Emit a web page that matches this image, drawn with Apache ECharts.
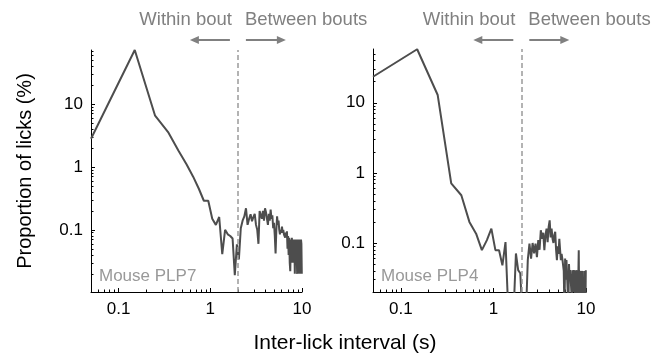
<!DOCTYPE html>
<html><head><meta charset="utf-8">
<script src="https://cdn.jsdelivr.net/npm/echarts@6/dist/echarts.min.js"></script>
<style>html,body{margin:0;padding:0;background:#fff}#c{width:653px;height:354px}</style>
</head><body><div id="c"></div>
<script>
// Inter-lick interval bin centres (s)
const intervals = [0.05,0.15,0.25,0.35,0.45,0.55,0.65,0.75,0.85,0.95,
  1.05,1.15,1.25,1.35,1.45,1.55,1.65,1.75,1.85,1.95,
  2.05,2.15,2.25,2.35,2.45,2.55,2.65,2.75,2.85,2.95,
  3.05,3.15,3.25,3.35,3.45,3.55,3.65,3.75,3.85,3.95,
  4.05,4.15,4.25,4.35,4.45,4.55,4.65,4.75,4.85,4.95,
  5.05,5.15,5.25,5.35,5.45,5.55,5.65,5.75,5.85,5.95,
  6.05,6.15,6.25,6.35,6.45,6.55,6.65,6.75,6.85,6.95,
  7.05,7.15,7.25,7.35,7.45,7.55,7.65,7.75,7.85,7.95,
  8.05,8.15,8.25,8.35,8.45,8.55,8.65,8.75,8.85,8.95,
  9.05,9.15,9.25,9.35,9.45,9.55,9.65,9.75,9.85,9.95];
// Proportion of licks (%) - Mouse PLP7
const plp7 = [2.8,72,6.5,3.5,1.8,1.1,0.7,0.45,0.29,0.29,
  0.15,0.12,0.16,0.041,0.1,0.085,0.08,0.073,0.019,0.059,
  0.034,0.106,0.14,0.164,0.22,0.12,0.15,0.177,0.137,0.16,
  0.18,0.12,0.1,0.06,0.2,0.21,0.15,0.2,0.14,0.22,
  0.19,0.15,0.12,0.18,0.14,0.21,0.15,0.17,0.106,0.13,
  0.08,0.042,0.1,0.164,0.12,0.14,0.1,0.085,0.1,0.09,
  0.113,0.09,0.1,0.085,0.09,0.075,0.09,0.08,0.095,0.05,
  0.08,0.04,0.075,0.03,0.022,0.07,0.04,0.075,0.03,0.07,
  0.073,0.03,0.07,0.02,0.06,0.03,0.07,0.05,0.02,0.07,
  0.03,0.06,0.02,0.07,0.04,0.06,0.02,0.07,0.06,0.02];
// Proportion of licks (%) - Mouse PLP4
const plp4 = [23.5,58,12.9,0.71,0.48,0.2,0.136,0.079,0.11,0.16,
  0.079,0.079,0.048,0.103,0.01,0.01,0.01,0.071,0.041,0.037,
  0.01,0.01,0.01,0.057,0.098,0.06,0.1,0.071,0.098,0.063,
  0.11,0.08,0.152,0.115,0.14,0.079,0.13,0.16,0.103,0.17,
  0.21,0.12,0.16,0.115,0.1,0.13,0.145,0.08,0.057,0.09,
  0.07,0.115,0.08,0.057,0.07,0.06,0.06,0.04,0.01,0.06,
  0.03,0.057,0.057,0.02,0.01,0.05,0.03,0.041,0.041,0.02,
  0.01,0.041,0.02,0.041,0.03,0.041,0.01,0.04,0.02,0.041,
  0.01,0.04,0.03,0.079,0.01,0.04,0.02,0.04,0.01,0.03,
  0.02,0.04,0.01,0.03,0.02,0.01,0.04,0.02,0.01,0.041];

const panelNames = ['Mouse PLP7', 'Mouse PLP4'];
const xMajorTicks = [0.1, 1, 10];
const xMinorTicks = [0.06,0.07,0.08,0.09,0.2,0.3,0.4,0.5,0.6,0.7,0.8,0.9,2,3,4,5,6,7,8,9];
const yMajorTicks = [0.1, 1, 10];
const yMinorTicksLeft = [0.02,0.03,0.04,0.05,0.06,0.07,0.08,0.09,0.2,0.3,0.4,0.5,0.6,0.7,0.8,0.9,2,3,4,5,6,7,8,9,20,30,40,50,60,70];
const yMinorTicksRight = [0.03,0.04,0.05,0.06,0.07,0.08,0.09,0.2,0.3,0.4,0.5,0.6,0.7,0.8,0.9,2,3,4,5,6,7,8,9,20,30,40,50];
const boutThreshold = 2;
const xRange = [0.05, 10];
const yRangeLeft = [0.0103, 72];
const yRangeRight = [0.02, 58.5];

const FONT = "'Liberation Sans', Arial, Helvetica, sans-serif";
const chart = echarts.init(document.getElementById('c'), null, {renderer: 'canvas'});

function powFmt(v) {
  const l = Math.log10(v);
  return Math.abs(l - Math.round(l)) < 1e-6 ? String(+v.toPrecision(3)) : '';
}
function xAxesFor(gi) {
  return [{
    type: 'log', gridIndex: gi, position: 'bottom', min: xRange[0], max: xRange[1],
    axisLine: {lineStyle: {color: '#000', width: 1}},
    axisTick: {inside: true, length: 4, customValues: xMajorTicks, lineStyle: {color: '#000'}},
    axisLabel: {customValues: xMajorTicks, formatter: powFmt, color: '#000', fontSize: 17, fontFamily: FONT, margin: 9},
    splitLine: {show: false}, minorTick: {show: false}
  }, {
    type: 'log', gridIndex: gi, position: 'bottom', min: xRange[0], max: xRange[1],
    axisLine: {show: false},
    axisTick: {inside: true, length: 2.5, customValues: xMinorTicks, lineStyle: {color: '#000'}},
    axisLabel: {show: false}, splitLine: {show: false}
  }];
}
function yAxesFor(gi, range, minor, withName) {
  const main = {
    type: 'log', gridIndex: gi, position: 'left', min: range[0], max: range[1],
    axisLine: {show: true, lineStyle: {color: '#000', width: 1}},
    axisTick: {show: true, inside: true, length: 4, customValues: yMajorTicks, lineStyle: {color: '#000'}},
    axisLabel: {customValues: yMajorTicks, formatter: powFmt, color: '#000', fontSize: 17, fontFamily: FONT, margin: 8},
    splitLine: {show: false}
  };
  if (withName) {
    main.name = 'Proportion of licks (%)';
    main.nameLocation = 'middle';
    main.nameGap = 56;
    main.nameTextStyle = {color: '#000', fontSize: 20, fontFamily: FONT};
  }
  return [main, {
    type: 'log', gridIndex: gi, position: 'left', min: range[0], max: range[1],
    axisLine: {show: false},
    axisTick: {show: true, inside: true, length: 2.5, customValues: minor, lineStyle: {color: '#000'}},
    axisLabel: {show: false}, splitLine: {show: false}
  }];
}
function lineSeries(values, axisIdx) {
  return {
    type: 'line', xAxisIndex: axisIdx, yAxisIndex: axisIdx,
    data: intervals.map((x, i) => [x, values[i]]),
    symbol: 'none', clip: true, animation: false,
    lineStyle: {color: '#4d4d4d', width: 2},
    markLine: {
      silent: true, symbol: ['none', 'none'], label: {show: false},
      lineStyle: {type: [5, 3], color: '#9a9a9a', width: 1.5},
      data: [{xAxis: boutThreshold}]
    }
  };
}

chart.setOption({
  animation: false,
  grid: [
    {left: 91, top: 50, width: 211, height: 242},
    {left: 373, top: 49, width: 213, height: 243}
  ],
  xAxis: [...xAxesFor(0), ...xAxesFor(1)],
  yAxis: [...yAxesFor(0, yRangeLeft, yMinorTicksLeft, true), ...yAxesFor(1, yRangeRight, yMinorTicksRight, false)],
  series: [lineSeries(plp7, 0), lineSeries(plp4, 2)]
});

// Annotations anchored at the bout threshold
const gfx = [];
const grey = '#808080';
[0, 2].forEach((axisIdx, p) => {
  const d = chart.convertToPixel({xAxisIndex: axisIdx}, boutThreshold);
  const gx = chart.convertToPixel({xAxisIndex: axisIdx}, xRange[0]);
  const ay = 40;
  gfx.push({type: 'text', style: {text: 'Within bout', x: d - 6, y: 20, align: 'right', textAlign: 'right', verticalAlign: 'middle', textVerticalAlign: 'middle', fill: grey, fontSize: 18.5, fontFamily: FONT}});
  gfx.push({type: 'text', style: {text: 'Between bouts', x: d + 7, y: 20, align: 'left', textAlign: 'left', verticalAlign: 'middle', textVerticalAlign: 'middle', fill: grey, fontSize: 18.5, fontFamily: FONT}});
  gfx.push({type: 'line', shape: {x1: d - 8, y1: ay, x2: d - 40, y2: ay}, style: {stroke: grey, lineWidth: 2}});
  gfx.push({type: 'polygon', shape: {points: [[d - 48, ay], [d - 39, ay - 4], [d - 39, ay + 4]]}, style: {fill: grey}});
  gfx.push({type: 'line', shape: {x1: d + 8, y1: ay, x2: d + 40, y2: ay}, style: {stroke: grey, lineWidth: 2}});
  gfx.push({type: 'polygon', shape: {points: [[d + 48, ay], [d + 39, ay - 4], [d + 39, ay + 4]]}, style: {fill: grey}});
  gfx.push({type: 'text', style: {text: panelNames[p], x: gx + 8, y: 276, align: 'left', textAlign: 'left', verticalAlign: 'middle', textVerticalAlign: 'middle', fill: '#999', fontSize: 17, fontFamily: FONT}});
});
gfx.push({type: 'text', style: {text: 'Inter-lick interval (s)', x: 345, y: 343, align: 'center', textAlign: 'center', verticalAlign: 'middle', textVerticalAlign: 'middle', fill: '#000', fontSize: 21, fontFamily: FONT}});
chart.setOption({graphic: {elements: gfx}});
</script>
</body></html>
